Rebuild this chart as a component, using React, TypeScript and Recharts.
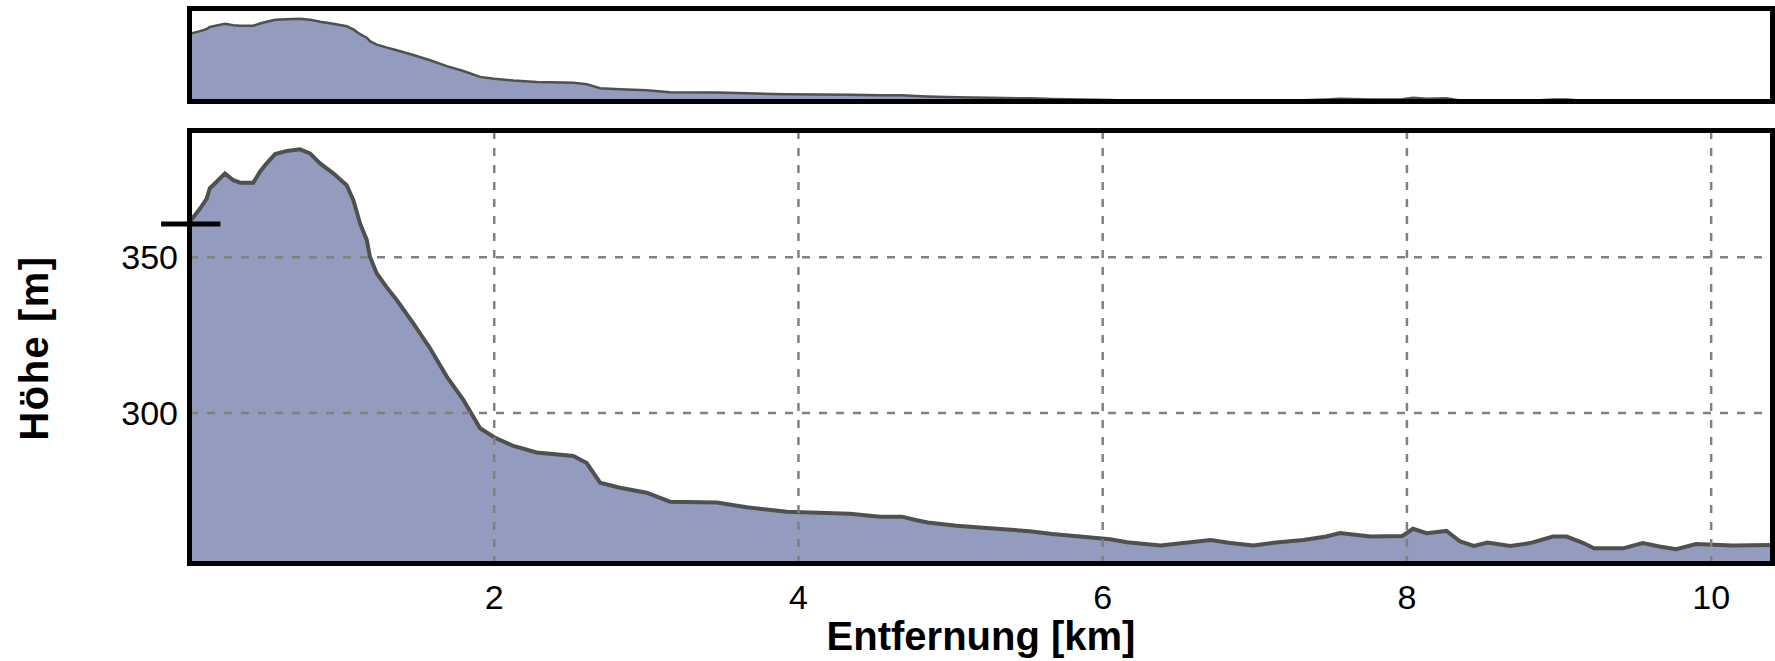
import { AreaChart, Area, XAxis, YAxis, CartesianGrid, ReferenceLine } from "recharts";

// distance along the track [km]
const distanceKm = [
  0, 0.066, 0.11, 0.13, 0.175, 0.23, 0.285, 0.33, 0.416, 0.46, 0.504, 0.56, 0.636, 0.723, 0.789, 0.855,
  0.942, 1.03, 1.074, 1.118, 1.162, 1.183, 1.227, 1.29, 1.359, 1.468, 1.578, 1.688, 1.797, 1.907, 2.0,
  2.126, 2.279, 2.52, 2.608, 2.696, 2.827, 3.002, 3.156, 3.463, 3.66, 3.923, 4.339, 4.536, 4.68, 4.77,
  4.85, 5.04, 5.26, 5.52, 5.67, 5.85, 6.05, 6.16, 6.38, 6.53, 6.71, 6.84, 6.99, 7.14, 7.32, 7.47, 7.56,
  7.76, 7.97, 8.04, 8.13, 8.26, 8.35, 8.44, 8.53, 8.68, 8.81, 8.96, 9.05, 9.16, 9.23, 9.42, 9.55, 9.66,
  9.77, 9.9, 10.14, 10.4,
];

// elevation [m]
const elevationM = [
  361.5, 365.7, 368.9, 372.2, 374.3, 377.0, 374.8, 374.0, 374.0, 377.5, 380.2, 383.2, 384.2, 384.7, 383.4,
  380.2, 377.0, 373.2, 368.4, 360.9, 355.6, 350.2, 344.9, 340.6, 336.3, 328.8, 320.8, 311.7, 304.2, 295.1,
  292.2, 289.4, 287.3, 286.2, 283.9, 277.6, 276.0, 274.4, 271.5, 271.2, 269.7, 268.3, 267.6, 266.7, 266.7,
  265.6, 264.8, 263.8, 263.0, 262.0, 261.1, 260.3, 259.4, 258.5, 257.4, 258.2, 259.2, 258.2, 257.4, 258.4,
  259.2, 260.3, 261.4, 260.3, 260.5, 262.8, 261.4, 262.1, 258.7, 257.3, 258.4, 257.3, 258.2, 260.3, 260.3,
  258.2, 256.5, 256.5, 258.2, 257.1, 256.2, 257.9, 257.4, 257.6,
];

const xTicks = [2, 4, 6, 8, 10];
const yTicks = [300, 350];
const startElevation = 360.7;

const data = distanceKm.map((d, i) => ({ dist: d, elev: elevationM[i] }));

const font = "'Liberation Sans', Arial, sans-serif";
const fillColor = "#939bbf";
const lineColor = "#505050";

const frame = {
  position: "absolute" as const,
  left: 187,
  width: 1588,
  border: "5px solid #000",
  boxSizing: "border-box" as const,
  pointerEvents: "none" as const,
};

export default function App() {
  return (
    <div style={{ position: "absolute", left: 0, top: 0, width: 1775, height: 661, background: "#fff" }}>
      {/* overview strip */}
      <div style={{ position: "absolute", left: 0, top: 0 }}>
        <AreaChart width={1775} height={110} data={data} margin={{ top: 12, right: 3, bottom: 11, left: 190 }}>
          <XAxis hide dataKey="dist" type="number" domain={[0, 10.4]} allowDataOverflow />
          <YAxis hide type="number" domain={[261, 395.2]} allowDataOverflow />
          <Area
            dataKey="elev"
            type="linear"
            stroke={lineColor}
            strokeWidth={2.5}
            fill={fillColor}
            fillOpacity={1}
            isAnimationActive={false}
          />
        </AreaChart>
      </div>

      {/* main profile */}
      <div style={{ position: "absolute", left: 0, top: 0 }}>
        <AreaChart width={1775} height={661} data={data} margin={{ top: 131, right: 3, bottom: 0, left: 0 }}>
          <XAxis
            dataKey="dist"
            type="number"
            domain={[0, 10.4]}
            ticks={xTicks}
            allowDataOverflow
            axisLine={false}
            tickLine={false}
            tickSize={0}
            tickMargin={22}
            height={98}
            tick={{ fill: "#000", fontSize: 34, fontFamily: font }}
            label={{
              value: "Entfernung [km]",
              position: "insideBottom",
              offset: 11,
              fill: "#000",
              fontSize: 40,
              fontWeight: "bold",
              fontFamily: font,
            }}
          />
          <YAxis
            type="number"
            domain={[251.8, 390.6]}
            ticks={yTicks}
            allowDataOverflow
            axisLine={false}
            tickLine={false}
            tickSize={0}
            tickMargin={12}
            width={190}
            tick={{ fill: "#000", fontSize: 34, fontFamily: font }}
            label={{
              content: () => (
                <text
                  x={34}
                  y={348}
                  transform="rotate(-90 34 348)"
                  textAnchor="middle"
                  dominantBaseline="central"
                  fill="#000"
                  fontSize={40}
                  fontWeight="bold"
                  fontFamily={font}
                  letterSpacing={1.5}
                >
                  Höhe [m]
                </text>
              ),
            }}
          />
          <Area
            dataKey="elev"
            type="linear"
            stroke={lineColor}
            strokeWidth={4}
            fill={fillColor}
            fillOpacity={1}
            isAnimationActive={false}
          />
          <CartesianGrid stroke="#808080" strokeDasharray="8 9" strokeWidth={2.5} zIndex={150} />
          <ReferenceLine
            segment={[
              { x: -0.19, y: startElevation },
              { x: 0.2, y: startElevation },
            ]}
            stroke="#000"
            strokeWidth={5}
            ifOverflow="visible"
            zIndex={200}
          />
        </AreaChart>
      </div>

      <div style={{ ...frame, top: 6, height: 98 }} />
      <div style={{ ...frame, top: 128, height: 438 }} />
    </div>
  );
}
